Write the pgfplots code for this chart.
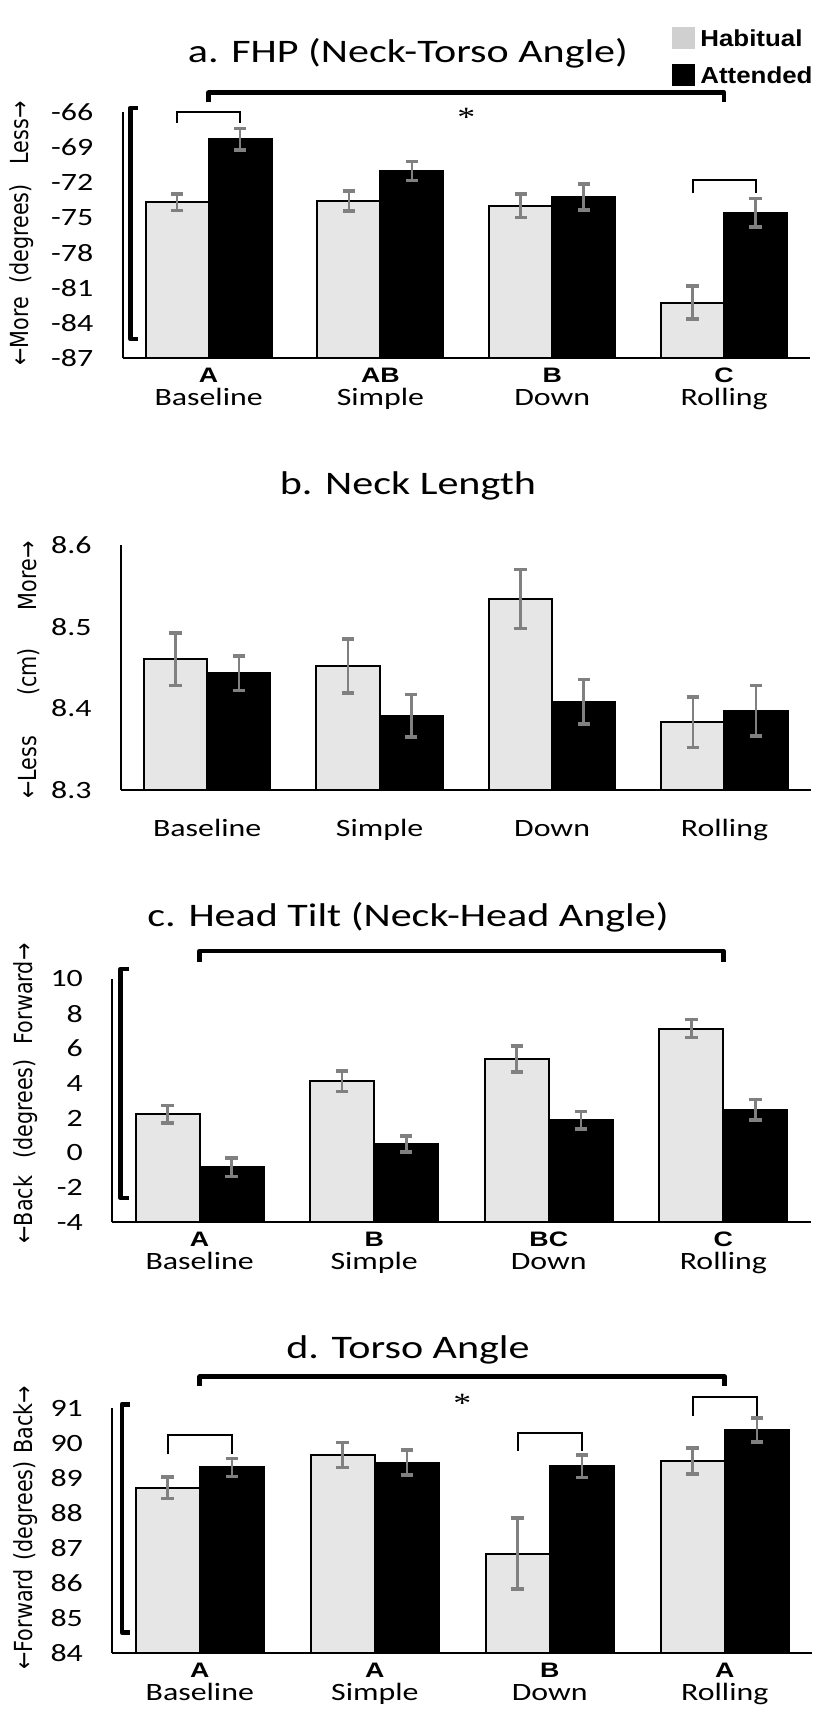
\documentclass[border=0pt]{standalone}
\usepackage{fontspec}
\setmainfont{Carlito}[FakeStretch=1.28]
\newfontfamily\letterfont{Liberation Sans}[FakeStretch=1.28]
\newfontfamily\legendfont{Liberation Sans}[FakeStretch=1.12]
\newfontfamily\labelfont{DejaVu Sans}
\newfontfamily\starfont{Liberation Serif}[FakeStretch=1.28]
\usepackage{pgfplots}
\usepackage{pgfplotstable}
\pgfplotsset{compat=1.18}

\definecolor{habgray}{HTML}{E6E6E6}
\definecolor{leggray}{HTML}{D0D0D0}
\definecolor{errgray}{HTML}{808080}

% group letter above condition name
\newcommand\cat[2]{{\letterfont\bfseries\fontsize{10.5}{11.6}\selectfont #1}\\#2}

% means and standard errors: x, habitual, error, attended, error
\pgfplotstableread{
x hab haberr att atterr
0 -73.70 0.70 -68.35 0.90
1 -73.60 0.85 -71.05 0.80
2 -74.00 1.00 -73.26 1.10
3 -82.26 1.40 -74.60 1.20
}\fhp
\pgfplotstableread{
x hab haberr att atterr
0 8.460 0.032 8.443 0.021
1 8.452 0.033 8.391 0.026
2 8.534 0.036 8.408 0.027
3 8.383 0.031 8.397 0.031
}\necklen
\pgfplotstableread{
x hab haberr att atterr
0 2.21 0.50 -0.84 0.53
1 4.11 0.59 0.50 0.46
2 5.40 0.74 1.87 0.50
3 7.14 0.52 2.48 0.59
}\headtilt
\pgfplotstableread{
x hab haberr att atterr
0 88.73 0.31 89.31 0.26
1 89.67 0.36 89.45 0.36
2 86.85 1.01 89.35 0.32
3 89.50 0.37 90.38 0.34
}\torso

\tikzset{
  bigbr/.style={line width=2.4bp, line join=round},
  smallbr/.style={line width=1bp},
  star/.style={font=\starfont\fontsize{14}{14}\selectfont, inner sep=0pt},
}

\pgfplotsset{
  panel/.style={
    scale only axis, anchor=south west, clip=false,
    axis x line*=bottom, axis y line*=left,
    axis line style={line width=1bp, black},
    major tick length=0pt,
    xmin=-0.5, xmax=3.5, xtick={0,1,2,3},
    xticklabel style={align=center, anchor=north, inner sep=0pt, yshift=-4.5bp,
      font=\fontsize{12.5}{11.6}\selectfont},
    yticklabel style={anchor=east, inner sep=0pt, xshift=-14.5bp,
      font=\fontsize{12.5}{14}\selectfont},
    every axis title/.style={anchor=base, inner sep=0pt,
      font=\fontsize{16.5}{18}\selectfont},
    every axis y label/.style={rotate=90, yscale=1.2, anchor=center, inner sep=0pt,
      font=\labelfont\fontsize{10.4}{12}\selectfont},
    legend image code/.code={\fill[##1] (0bp,-5.5bp) rectangle (11.5bp,5.5bp);},
  },
  % bars sit at x -/+ 0.1835 around each condition, so error bars follow them
  habbar/.style={ybar, bar width=0.367, bar shift=0pt, forget plot,
    fill=habgray, draw=black, line width=1bp,
    error bars/.cd, y dir=both, y explicit,
    error bar style={line width=1.3bp, draw=errgray, solid},
    error mark options={rotate=90, mark size=3.1bp, line width=1.75bp, draw=errgray}},
  attbar/.style={ybar, bar width=0.367, bar shift=0pt, forget plot,
    fill=black, draw=black, line width=1bp,
    error bars/.cd, y dir=both, y explicit,
    error bar style={line width=1.3bp, draw=errgray, solid},
    error mark options={rotate=90, mark size=3.1bp, line width=1.75bp, draw=errgray}},
}

\begin{document}
\begin{tikzpicture}
\useasboundingbox (0,0) rectangle (412bp,854.5bp);

% a. FHP -- bars rise from the -87 floor
\begin{axis}[panel, at={(61.35bp,675.35bp)}, width=343.65bp, height=123.3bp,
  y filter/.expression={y+87},
  ymin=0, ymax=21, ytick={0,3,...,21},
  yticklabels={-87,-84,-81,-78,-75,-72,-69,-66},
  xticklabels={{\cat{A}{Baseline}},{\cat{AB}{Simple}},{\cat{B}{Down}},{\cat{C}{Rolling}}},
  title={a. FHP (Neck-Torso Angle)},
  title style={at={(axis description cs:0.415,1)}, yshift=24.35bp},
  ylabel={←More\hspace{6.5bp}(degrees)\hspace{10bp}Less→},
  ylabel style={at={(axis description cs:-0.1465,0.506)}},
  legend style={at={(0.7992,1.3435)}, anchor=north west, draw=none, fill=none,
    inner sep=0pt, row sep=7.2bp, column sep=2.5bp, legend cell align=left,
    font=\legendfont\bfseries\fontsize{11.6}{14}\selectfont,
    nodes={inner sep=0pt, text depth=0pt}},
]
\addplot[habbar] table[x expr=\thisrow{x}-0.1835, y=hab, y error=haberr] {\fhp};
\addplot[attbar] table[x expr=\thisrow{x}+0.1835, y=att, y error=atterr] {\fhp};
\addlegendimage{fill=leggray, draw=none}
\addlegendentry{Habitual}
\addlegendimage{fill=black, draw=none}
\addlegendentry{Attended}
\draw[bigbr] (axis cs:0,21.83) -- (axis cs:0,22.6) -- (axis cs:3,22.6) -- (axis cs:3,21.83);
\node[star] at (axis cs:1.5,20.55) {*};
\draw[smallbr] (axis cs:-0.183,20.04) -- (axis cs:-0.183,21) -- (axis cs:0.183,21) -- (axis cs:0.183,20.04);
\draw[smallbr] (axis cs:2.817,14.07) -- (axis cs:2.817,15.18) -- (axis cs:3.183,15.18) -- (axis cs:3.183,14.07);
\draw[bigbr] (axis cs:-0.41,21.32) -- (axis cs:-0.455,21.32) -- (axis cs:-0.455,1.65) -- (axis cs:-0.41,1.65);
\end{axis}

% b. Neck Length -- bars rise from the 8.3 floor
\begin{axis}[panel, at={(60.5bp,459.5bp)}, width=344.85bp, height=122.5bp,
  y filter/.expression={y-8.3},
  ymin=0, ymax=0.3, ytick={0,0.1,0.2,0.3},
  yticklabels={8.3,8.4,8.5,8.6},
  xticklabels={{\cat{\phantom{A}}{Baseline}},{\cat{\phantom{A}}{Simple}},{\cat{\phantom{A}}{Down}},{\cat{\phantom{A}}{Rolling}}},
  title={b. Neck Length},
  title style={at={(axis description cs:0.416,1)}, yshift=25bp},
  ylabel={←Less\hspace{20bp}(cm)\hspace{19bp}More→},
  ylabel style={at={(axis description cs:-0.1334,0.49)}},
]
\addplot[habbar] table[x expr=\thisrow{x}-0.1835, y=hab, y error=haberr] {\necklen};
\addplot[attbar] table[x expr=\thisrow{x}+0.1835, y=att, y error=atterr] {\necklen};
\end{axis}

% c. Head Tilt -- bars rise from the -4 floor
\begin{axis}[panel, at={(56.15bp,243.35bp)}, width=349.2bp, height=121.65bp,
  y filter/.expression={y+4},
  ymin=0, ymax=14, ytick={0,2,...,14},
  yticklabels={-4,-2,0,2,4,6,8,10},
  xticklabels={{\cat{A}{Baseline}},{\cat{B}{Simple}},{\cat{BC}{Down}},{\cat{C}{Rolling}}},
  title={c. Head Tilt (Neck-Head Angle)},
  title style={at={(axis description cs:0.4234,1)}, yshift=26bp},
  ylabel={←Back\hspace{8.5bp}(degrees)\hspace{7.5bp}Forward→},
  ylabel style={at={(axis description cs:-0.1236,0.529)}},
]
\addplot[habbar] table[x expr=\thisrow{x}-0.1835, y=hab, y error=haberr] {\headtilt};
\addplot[attbar] table[x expr=\thisrow{x}+0.1835, y=att, y error=atterr] {\headtilt};
\draw[bigbr] (axis cs:0,14.99) -- (axis cs:0,15.61) -- (axis cs:3,15.61) -- (axis cs:3,14.99);
\draw[bigbr] (axis cs:-0.404,14.57) -- (axis cs:-0.453,14.57) -- (axis cs:-0.453,1.4) -- (axis cs:-0.404,1.4);
\end{axis}

% d. Torso Angle -- bars rise from the 84 floor
\begin{axis}[panel, at={(56.15bp,27.85bp)}, width=350bp, height=122.5bp,
  y filter/.expression={y-84},
  ymin=0, ymax=7, ytick={0,1,...,7},
  yticklabels={84,85,86,87,88,89,90,91},
  xticklabels={{\cat{A}{Baseline}},{\cat{A}{Simple}},{\cat{B}{Down}},{\cat{A}{Rolling}}},
  title={d. Torso Angle},
  title style={at={(axis description cs:0.4224,1)}, yshift=25.15bp},
  ylabel={←Forward\hspace{4bp}(degrees)\hspace{4bp}Back→},
  ylabel style={at={(axis description cs:-0.1233,0.513)}},
]
\addplot[habbar] table[x expr=\thisrow{x}-0.1835, y=hab, y error=haberr] {\torso};
\addplot[attbar] table[x expr=\thisrow{x}+0.1835, y=att, y error=atterr] {\torso};
\draw[bigbr] (axis cs:0,7.64) -- (axis cs:0,7.9) -- (axis cs:3,7.9) -- (axis cs:3,7.64);
\node[star] at (axis cs:1.5,7.14) {*};
\draw[smallbr] (axis cs:-0.183,5.7) -- (axis cs:-0.183,6.24) -- (axis cs:0.183,6.24) -- (axis cs:0.183,5.7);
\draw[smallbr] (axis cs:1.817,5.79) -- (axis cs:1.817,6.3) -- (axis cs:2.183,6.3) -- (axis cs:2.183,5.79);
\draw[smallbr] (axis cs:2.817,6.78) -- (axis cs:2.817,7.33) -- (axis cs:3.183,7.33) -- (axis cs:3.183,6.78);
\draw[bigbr] (axis cs:-0.40,7.12) -- (axis cs:-0.445,7.12) -- (axis cs:-0.445,0.6) -- (axis cs:-0.40,0.6);
\end{axis}
\end{tikzpicture}
\end{document}
